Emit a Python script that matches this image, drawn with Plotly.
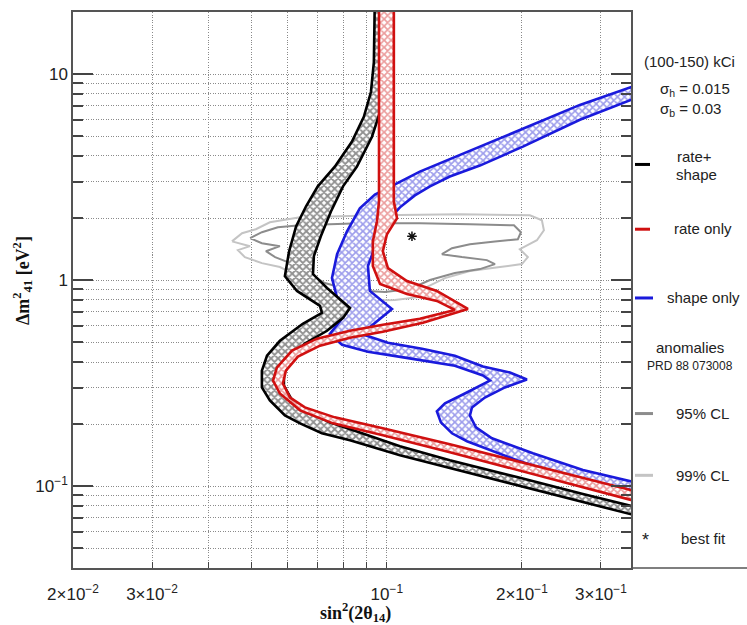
import math
import plotly.graph_objects as go

# ---------------- axes ----------------
x_range = [0.02, 0.35]
y_range = [0.04, 20]
x_tick_vals = [0.02, 0.03, 0.1, 0.2, 0.3]
x_tick_text = ["2×10<sup>−2</sup>", "3×10<sup>−2</sup>", "10<sup>−1</sup>", "2×10<sup>−1</sup>", "3×10<sup>−1</sup>"]
x_minor_vals = [0.04, 0.05, 0.06, 0.07, 0.08, 0.09]
y_tick_vals = [0.1, 1, 10]
y_tick_text = ["10<sup>−1</sup>", "1", "10"]
y_minor_vals = [0.05, 0.06, 0.07, 0.08, 0.09,
                0.2, 0.3, 0.4, 0.5, 0.6, 0.7, 0.8, 0.9,
                2, 3, 4, 5, 6, 7, 8, 9, 20]

# ---------------- rate + shape (black band) ----------------
black_left_x = [0.0941, 0.0936, 0.0922, 0.0889, 0.0836, 0.0766, 0.0702, 0.0661, 0.0628, 0.0606,
                0.0593, 0.0631, 0.0710, 0.0717, 0.0650, 0.0578, 0.0541, 0.0527, 0.0527, 0.0549,
                0.0593, 0.0641, 0.0717, 0.0828, 0.1070, 0.1382, 0.1950, 0.2735, 0.3498, 0.450]
black_left_y = [25, 11.43, 8.18, 6.20, 4.69, 3.55, 2.85, 2.28, 1.82, 1.38,
                1.045, 0.885, 0.749, 0.693, 0.613, 0.507, 0.429, 0.363, 0.301, 0.260,
                0.220, 0.2015, 0.1803, 0.167, 0.141, 0.1222, 0.100, 0.0828, 0.0724, 0.0634]
black_right_x = [0.1011, 0.1006, 0.0991, 0.0966, 0.0927, 0.0858, 0.0799, 0.0751, 0.0713, 0.0688,
                 0.0685, 0.0736, 0.0828, 0.0799, 0.0736, 0.0657, 0.0612, 0.0590, 0.0590, 0.0612,
                 0.0657, 0.0747, 0.0871, 0.1070, 0.1382, 0.1950, 0.2735, 0.3498, 0.450]
black_right_y = [25, 11.43, 8.18, 6.55, 4.96, 3.55, 2.85, 2.15, 1.63, 1.306,
                 1.069, 0.915, 0.732, 0.655, 0.567, 0.491, 0.429, 0.363, 0.3075, 0.266,
                 0.233, 0.2038, 0.1824, 0.156, 0.1335, 0.1105, 0.0915, 0.0800, 0.070]

# ---------------- rate only (red band) ----------------
red_left_x = [0.0961, 0.0961, 0.0951, 0.0931, 0.0931, 0.0966, 0.1109, 0.1293, 0.1418, 0.1185,
              0.0980, 0.0828, 0.0699, 0.0615, 0.0569, 0.0558, 0.0578, 0.0641, 0.0759, 0.0980,
              0.1382, 0.1950, 0.2735, 0.3498, 0.450]
red_left_y = [25, 2.41, 1.93, 1.54, 1.169, 0.957, 0.856, 0.792, 0.716, 0.648,
              0.606, 0.567, 0.519, 0.454, 0.376, 0.325, 0.2813, 0.233, 0.2015, 0.1764,
              0.146, 0.1195, 0.0989, 0.0856, 0.0749]
red_right_x = [0.1037, 0.1037, 0.1054, 0.1001, 0.0980, 0.1006, 0.1109, 0.1293, 0.1516, 0.1204,
               0.0980, 0.0828, 0.0710, 0.0634, 0.0596, 0.0587, 0.0609, 0.0657, 0.0766, 0.0980,
               0.1382, 0.1950, 0.2735, 0.3498, 0.450]
red_right_y = [25, 2.41, 1.993, 1.668, 1.38, 1.143, 0.989, 0.885, 0.724, 0.620,
               0.561, 0.525, 0.480, 0.4247, 0.363, 0.3145, 0.269, 0.2407, 0.2154, 0.1906,
               0.1596, 0.132, 0.1093, 0.0956, 0.0837]

# ---------------- shape only (blue band) ----------------
blue_a_x = [0.450, 0.3498, 0.2693, 0.2010, 0.1612, 0.1382, 0.1185, 0.1043, 0.0941, 0.0871,
            0.0815, 0.0775, 0.0755, 0.0775, 0.0815, 0.0775, 0.0747, 0.0795, 0.0908, 0.1098,
            0.1418, 0.1638, 0.1697, 0.1493, 0.1348, 0.1293, 0.1320, 0.1397, 0.1509, 0.1950,
            0.2518, 0.3498, 0.450]
blue_a_y = [10.45, 8.65, 7.08, 5.42, 4.44, 3.886, 3.36, 2.91, 2.60, 2.227,
            1.72, 1.335, 1.022, 0.819, 0.70, 0.606, 0.548, 0.485, 0.449, 0.420,
            0.384, 0.344, 0.325, 0.2813, 0.2518, 0.2304, 0.2038, 0.1803, 0.165, 0.1335,
            0.1105, 0.0957, 0.0837]
blue_b_x = [0.450, 0.3498, 0.2693, 0.2010, 0.1612, 0.1382, 0.1248, 0.1155, 0.1070, 0.1016,
            0.0951, 0.0908, 0.0917, 0.1027, 0.0966, 0.0908, 0.0889, 0.1006, 0.1198, 0.1418,
            0.1638, 0.1881, 0.2052, 0.1833, 0.1654, 0.1548, 0.1532, 0.1580, 0.1715, 0.2116,
            0.2735, 0.3498, 0.450]
blue_b_y = [9.05, 7.49, 6.0, 4.44, 3.594, 3.18, 2.85, 2.574, 2.253, 1.993,
            1.54, 1.169, 0.885, 0.724, 0.648, 0.58, 0.542, 0.496, 0.464, 0.429,
            0.380, 0.3555, 0.3288, 0.301, 0.269, 0.2407, 0.220, 0.1928, 0.1705, 0.1443,
            0.1195, 0.1057, 0.0925]

# ---------------- anomalies contours ----------------
cl95_x = [0.0496, 0.0527, 0.0572, 0.0641, 0.0871, 0.1185, 0.1532, 0.1920, 0.1990, 0.1959,
          0.1742, 0.1532, 0.1397, 0.1327, 0.1470, 0.1671, 0.1742, 0.1612, 0.1418, 0.1248,
          0.1126, 0.0991, 0.0828, 0.0728, 0.0657, 0.0602, 0.0564, 0.0538, 0.0578, 0.0527, 0.0496]
cl95_y = [1.596, 1.706, 1.803, 1.844, 1.885, 1.885, 1.864, 1.844, 1.706, 1.578,
          1.54, 1.492, 1.427, 1.335, 1.292, 1.249, 1.195, 1.130, 1.081, 1.0,
          0.905, 0.875, 0.895, 0.967, 1.105, 1.222, 1.292, 1.38, 1.46, 1.509, 1.596]
cl99_x = [0.0452, 0.0476, 0.0511, 0.0549, 0.0641, 0.0966, 0.1455, 0.2084, 0.2216, 0.2239,
          0.2160, 0.1979, 0.2062, 0.2000, 0.1787, 0.1532, 0.1348, 0.1216, 0.1185, 0.1043,
          0.0871, 0.0778, 0.0702, 0.0641, 0.0578, 0.0527, 0.0483, 0.0466, 0.0496, 0.0452]
cl99_y = [1.54, 1.687, 1.764, 1.906, 2.015, 2.061, 2.084, 2.061, 1.949, 1.743,
          1.56, 1.412, 1.292, 1.195, 1.156, 1.105, 1.022, 0.915, 0.828, 0.80,
          0.792, 0.819, 0.905, 1.034, 1.156, 1.208, 1.292, 1.396, 1.46, 1.54]
best_fit_x = [0.1138]
best_fit_y = [1.63]

# ---------------- figure ----------------
W, H = 747, 625
ML, MR, MT, MB = 73, 116, 10, 57
PW = W - ML - MR
PH = H - MT - MB


def px(xp):
    return (xp - ML) / PW


def py(yp):
    return (H - MB - yp) / PH


fig = go.Figure()

fig.add_trace(go.Scatter(x=cl99_x, y=cl99_y, mode="lines",
                         line=dict(color="#c4c4c4", width=2), hoverinfo="skip"))
fig.add_trace(go.Scatter(x=cl95_x, y=cl95_y, mode="lines",
                         line=dict(color="#8c8c8c", width=2), hoverinfo="skip"))


def band(lx, ly, rx, ry, line_color, fg, sol):
    return go.Scatter(
        x=lx + rx[::-1], y=ly + ry[::-1], mode="lines", fill="toself",
        fillcolor="white",
        fillpattern=dict(shape="x", fgcolor=fg, bgcolor="white", size=5, solidity=sol),
        line=dict(color=line_color, width=2.6), hoverinfo="skip")


fig.add_trace(band(blue_a_x, blue_a_y, blue_b_x, blue_b_y, "#1a1adc", "#3a3ad8", 0.55))
fig.add_trace(band(black_left_x, black_left_y, black_right_x, black_right_y, "#000000", "#222222", 0.6))
fig.add_trace(band(red_left_x, red_left_y, red_right_x, red_right_y, "#d01010", "#d83a3a", 0.55))

fig.add_trace(go.Scatter(x=best_fit_x, y=best_fit_y, mode="markers",
                         marker=dict(symbol="asterisk-open", size=8, color="#111",
                                     line=dict(color="#111", width=1.5)),
                         hoverinfo="skip"))

tick_font = dict(family="Liberation Sans, Arial, sans-serif", size=17, color="#222")
grid_common = dict(gridcolor="#8a8a8a", griddash="1px,1.5px", gridwidth=1)

fig.update_xaxes(type="log", range=[math.log10(x_range[0]), math.log10(x_range[1])],
                 tickmode="array", tickvals=x_tick_vals, ticktext=x_tick_text,
                 ticks="inside", ticklen=6, tickwidth=1.2, tickcolor="#444",
                 ticklabelstandoff=10,
                 showline=True, linecolor="#555", linewidth=1.5, mirror=True,
                 showgrid=True, **grid_common, zeroline=False, tickfont=tick_font,
                 minor=dict(tickmode="array", tickvals=x_minor_vals, ticks="inside", ticklen=6,
                            tickcolor="#444", showgrid=True, **grid_common))
fig.update_yaxes(type="log", range=[math.log10(y_range[0]), math.log10(y_range[1])],
                 tickmode="array", tickvals=y_tick_vals, ticktext=y_tick_text,
                 ticks="inside", ticklen=20, tickwidth=1.5, tickcolor="#444",
                 showline=True, linecolor="#555", linewidth=1.5, mirror="ticks",
                 showgrid=True, **grid_common, zeroline=False, tickfont=tick_font,
                 minor=dict(tickmode="array", tickvals=y_minor_vals, ticks="inside", ticklen=10,
                            tickwidth=1.5, tickcolor="#444", showgrid=True, **grid_common))

ann = []
ann.append(dict(text="<b>sin<sup>2</sup>(2θ<sub>14</sub>)</b>", x=px(355), y=py(613),
                font=dict(family="Liberation Serif, Times New Roman, serif", size=18, color="#111")))
ann.append(dict(text="<b>Δm<sup>2</sup><sub>41</sub> [eV<sup>2</sup>]</b>", x=px(22), y=py(280),
                textangle=-90,
                font=dict(family="Liberation Serif, Times New Roman, serif", size=18, color="#111")))

leg_font = dict(family="Liberation Sans, Arial, sans-serif", size=15, color="#222")
legend_texts = [
    ("(100-150) kCi", 689, 60, leg_font),
    ("σ<sub>h</sub> = 0.015", 695, 88, leg_font),
    ("σ<sub>b</sub> = 0.03", 690, 108, leg_font),
    ("rate+", 694, 155, leg_font),
    ("shape", 696, 173, leg_font),
    ("rate only", 703, 227, leg_font),
    ("shape only", 703, 297, leg_font),
    ("anomalies", 690, 347, leg_font),
    ("PRD 88 073008", 690, 365, dict(leg_font, size=12)),
    ("95% CL", 702, 413, leg_font),
    ("99% CL", 702, 475, leg_font),
    ("best fit", 703, 538, leg_font),
    ("*", 645, 540, dict(leg_font, size=18)),
]
for t, xx, yy, f in legend_texts:
    ann.append(dict(text=t, x=px(xx), y=py(yy), font=f))

for a in ann:
    a.update(xref="paper", yref="paper", showarrow=False, xanchor="center", yanchor="middle")

shapes = []
legend_lines = [
    (635, 650, 163, "#000000"),
    (635, 650, 228, "#d01010"),
    (635, 653, 297, "#1a1adc"),
    (635, 653, 413, "#8c8c8c"),
    (635, 653, 475, "#c4c4c4"),
]
for x0, x1, yy, c in legend_lines:
    shapes.append(dict(type="line", xref="paper", yref="paper", x0=px(x0), x1=px(x1),
                       y0=py(yy), y1=py(yy), line=dict(color=c, width=3)))
shapes.append(dict(type="line", xref="paper", yref="paper", x0=1, x1=px(W), y0=0, y1=0,
                   line=dict(color="#555", width=1.5)))

fig.update_layout(width=W, height=H, margin=dict(l=ML, r=MR, t=MT, b=MB),
                  paper_bgcolor="white", plot_bgcolor="white", showlegend=False,
                  annotations=ann, shapes=shapes)

fig.write_html("out.html", config={"displayModeBar": False},
               post_script="document.body.style.margin='0';document.body.style.padding='0';")
